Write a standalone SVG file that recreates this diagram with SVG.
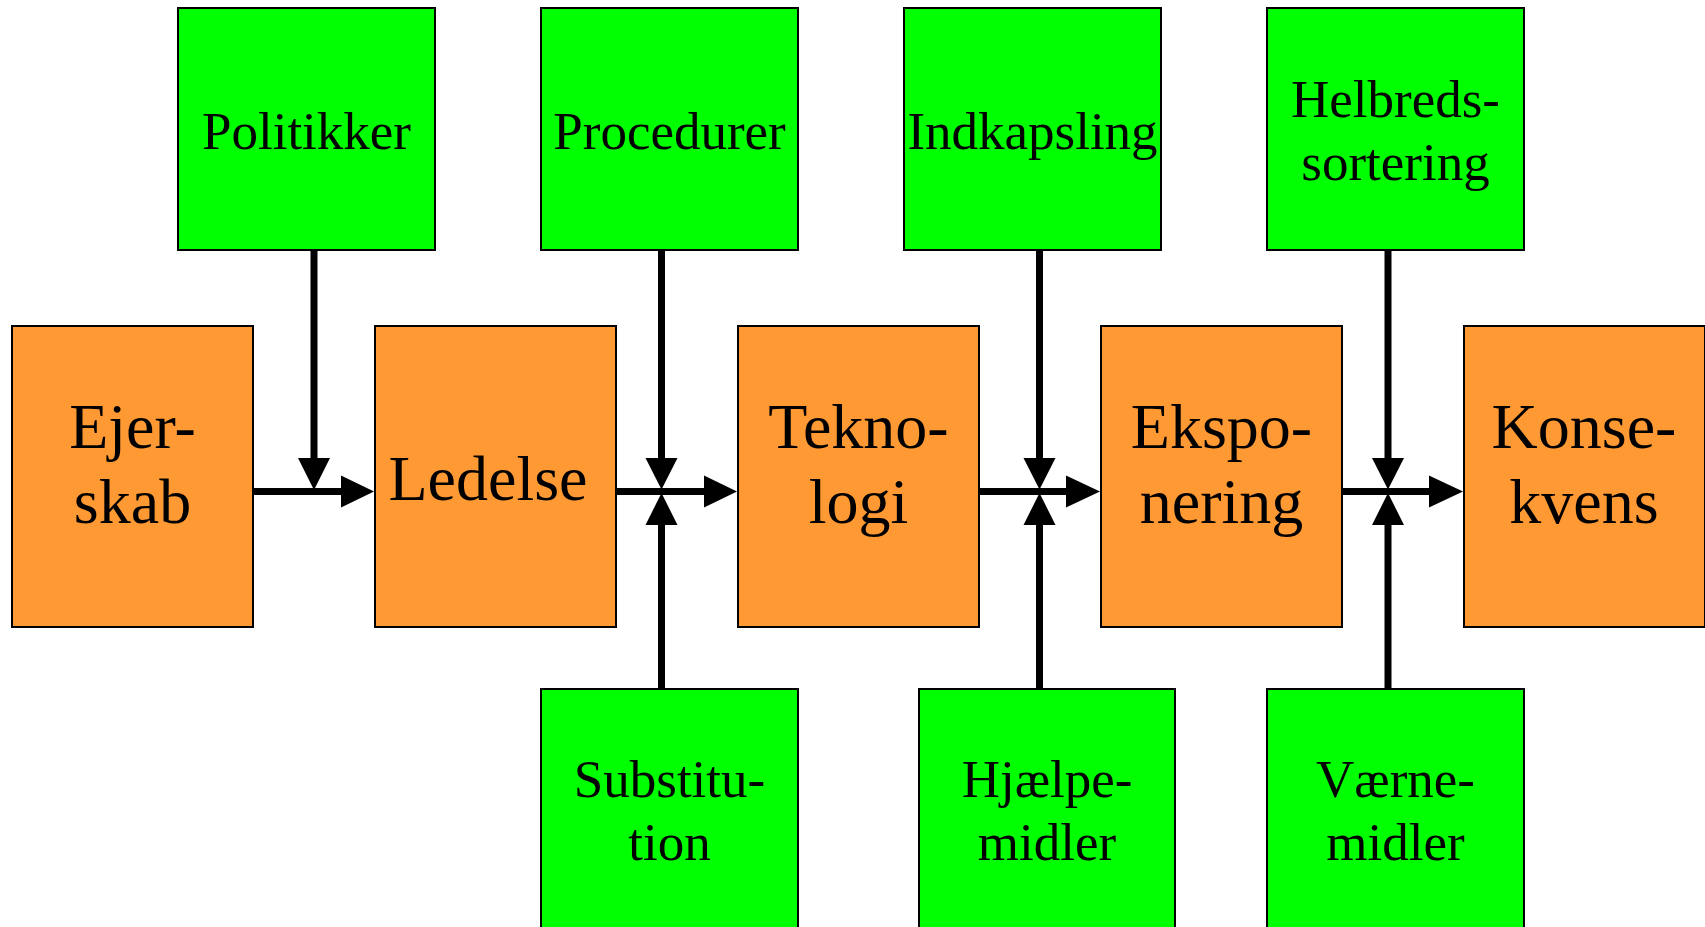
<svg xmlns="http://www.w3.org/2000/svg" width="1705" height="927" viewBox="0 0 1705 927">
  <style>
    .stage { fill: #FF9933; stroke: #000; stroke-width: 2; }
    .measure { fill: #00FF00; stroke: #000; stroke-width: 2; }
    .big { font-family: "Liberation Serif", "Times New Roman", serif; font-size: 64px; fill: #000; text-anchor: middle; }
    .small { font-family: "Liberation Serif", "Times New Roman", serif; font-size: 53px; fill: #000; text-anchor: middle; }
    .wire { stroke: #000; stroke-width: 7; fill: none; }
    .head { fill: #000; }
  </style>
  <rect width="1705" height="927" fill="#fff"/>

  <!-- Connectors: main chain and control inputs -->
  <g id="connectors">
    <!-- main flow -->
    <line class="wire" x1="253" y1="491.5" x2="342" y2="491.5"/>
    <polygon class="head" points="341,475.5 374,491.5 341,507.5"/>
    <line class="wire" x1="616" y1="491.5" x2="705" y2="491.5"/>
    <polygon class="head" points="704,475.5 737,491.5 704,507.5"/>
    <line class="wire" x1="980" y1="491.5" x2="1067" y2="491.5"/>
    <polygon class="head" points="1066,475.5 1100,491.5 1066,507.5"/>
    <line class="wire" x1="1342" y1="491.5" x2="1430" y2="491.5"/>
    <polygon class="head" points="1429,475.5 1463,491.5 1429,507.5"/>

    <!-- inputs from above -->
    <line class="wire" x1="314" y1="250" x2="314" y2="459"/>
    <polygon class="head" points="298,458 330,458 314,490"/>
    <line class="wire" x1="661.5" y1="250" x2="661.5" y2="459"/>
    <polygon class="head" points="645.5,458 677.5,458 661.5,489.5"/>
    <line class="wire" x1="1039.5" y1="250" x2="1039.5" y2="459"/>
    <polygon class="head" points="1023.5,458 1055.5,458 1039.5,489.5"/>
    <line class="wire" x1="1388" y1="250" x2="1388" y2="459"/>
    <polygon class="head" points="1372,458 1404,458 1388,489.5"/>

    <!-- inputs from below -->
    <line class="wire" x1="661.5" y1="688" x2="661.5" y2="524"/>
    <polygon class="head" points="645.5,525 677.5,525 661.5,493"/>
    <line class="wire" x1="1039.5" y1="688" x2="1039.5" y2="524"/>
    <polygon class="head" points="1023.5,525 1055.5,525 1039.5,493"/>
    <line class="wire" x1="1388" y1="688" x2="1388" y2="524"/>
    <polygon class="head" points="1372,525 1404,525 1388,493"/>
  </g>

  <!-- Main chain stages -->
  <g id="ejerskab">
    <rect class="stage" x="12" y="326" width="241" height="301"/>
    <text class="big" x="132.5" y="448">Ejer-</text>
    <text class="big" x="132.5" y="523">skab</text>
  </g>
  <g id="ledelse">
    <rect class="stage" x="375" y="326" width="241" height="301"/>
    <text class="big" x="488" y="500">Ledelse</text>
  </g>
  <g id="teknologi">
    <rect class="stage" x="738" y="326" width="241" height="301"/>
    <text class="big" x="858.5" y="448">Tekno-</text>
    <text class="big" x="858.5" y="523">logi</text>
  </g>
  <g id="eksponering">
    <rect class="stage" x="1101" y="326" width="241" height="301"/>
    <text class="big" x="1221.5" y="448">Ekspo-</text>
    <text class="big" x="1221.5" y="523">nering</text>
  </g>
  <g id="konsekvens">
    <rect class="stage" x="1464" y="326" width="241" height="301"/>
    <text class="big" x="1584" y="448">Konse-</text>
    <text class="big" x="1584" y="523">kvens</text>
  </g>

  <!-- Upper control measures -->
  <g id="politikker">
    <rect class="measure" x="178" y="8" width="257" height="242"/>
    <text class="small" x="306.5" y="149">Politikker</text>
  </g>
  <g id="procedurer">
    <rect class="measure" x="541" y="8" width="257" height="242"/>
    <text class="small" x="669.5" y="149">Procedurer</text>
  </g>
  <g id="indkapsling">
    <rect class="measure" x="904" y="8" width="257" height="242"/>
    <text class="small" x="1032.5" y="149">Indkapsling</text>
  </g>
  <g id="helbredssortering">
    <rect class="measure" x="1267" y="8" width="257" height="242"/>
    <text class="small" x="1395.5" y="117">Helbreds-</text>
    <text class="small" x="1395.5" y="180">sortering</text>
  </g>

  <!-- Lower control measures -->
  <g id="substitution">
    <rect class="measure" x="541" y="689" width="257" height="250"/>
    <text class="small" x="669.5" y="797">Substitu-</text>
    <text class="small" x="669.5" y="860">tion</text>
  </g>
  <g id="hjaelpemidler">
    <rect class="measure" x="919" y="689" width="256" height="250"/>
    <text class="small" x="1047" y="797">Hjælpe-</text>
    <text class="small" x="1047" y="860">midler</text>
  </g>
  <g id="vaernemidler">
    <rect class="measure" x="1267" y="689" width="257" height="250"/>
    <text class="small" x="1395.5" y="797">Værne-</text>
    <text class="small" x="1395.5" y="860">midler</text>
  </g>
</svg>
